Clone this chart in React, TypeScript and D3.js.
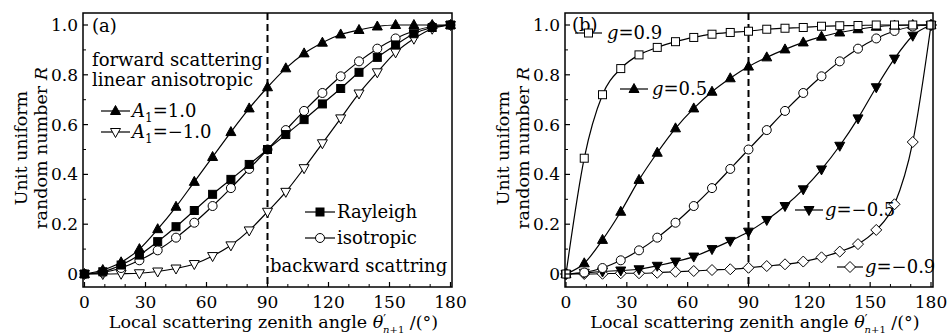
import React from 'react';
import * as d3 from 'd3';

// ---------- data ----------
const ANGLES = [0, 9, 18, 27, 36, 45, 54, 63, 72, 81, 90, 99, 108, 117, 126, 135, 144, 153, 162, 171, 180];
const X_TICKS = [0, 30, 60, 90, 120, 150, 180];
const X_TICK_LABELS = ['0', '30', '60', '90', '120', '150', '180'];
const Y_TICKS = [0, 0.2, 0.4, 0.6, 0.8, 1.0];
const Y_TICK_LABELS = ['0', '0.2', '0.4', '0.6', '0.8', '1.0'];

// panel (a)
const A1_POS = [0, 0.016, 0.047, 0.1, 0.18, 0.27, 0.37, 0.47, 0.57, 0.665, 0.75, 0.826, 0.886, 0.929, 0.962, 0.98, 0.994, 1.0, 1.0, 1.0, 1.0];
const A1_NEG = [0, 0, 0.001, 0.003, 0.01, 0.022, 0.04, 0.072, 0.115, 0.175, 0.25, 0.33, 0.425, 0.525, 0.625, 0.725, 0.81, 0.89, 0.945, 0.985, 1.0];
const RAYLEIGH = [0, 0.009, 0.036, 0.076, 0.13, 0.19, 0.255, 0.32, 0.38, 0.44, 0.5, 0.56, 0.62, 0.683, 0.745, 0.81, 0.87, 0.92, 0.965, 0.99, 1.0];
const ISOTROPIC = [0, 0.006, 0.024, 0.055, 0.095, 0.146, 0.206, 0.273, 0.345, 0.422, 0.5, 0.578, 0.655, 0.727, 0.794, 0.854, 0.905, 0.946, 0.976, 0.994, 1.0];

// panel (b)
const G_P09 = [0, 0.465, 0.72, 0.825, 0.88, 0.91, 0.933, 0.95, 0.963, 0.97, 0.975, 0.983, 0.987, 0.99, 0.995, 0.997, 0.998, 1.0, 1.0, 1.0, 1.0];
const G_P05 = [0, 0.043, 0.137, 0.25, 0.378, 0.487, 0.585, 0.665, 0.732, 0.786, 0.833, 0.87, 0.902, 0.93, 0.953, 0.97, 0.983, 0.993, 0.998, 1.0, 1.0];
const G_00 = [0, 0.006, 0.024, 0.055, 0.095, 0.146, 0.206, 0.273, 0.345, 0.422, 0.5, 0.578, 0.655, 0.727, 0.794, 0.854, 0.905, 0.946, 0.976, 0.994, 1.0];
const G_M05 = [0, 0.005, 0.01, 0.014, 0.019, 0.033, 0.05, 0.07, 0.1, 0.133, 0.17, 0.217, 0.273, 0.34, 0.42, 0.515, 0.625, 0.75, 0.865, 0.957, 1.0];
const G_M09 = [0, 0, 0.001, 0.003, 0.003, 0.005, 0.009, 0.012, 0.016, 0.019, 0.025, 0.032, 0.039, 0.05, 0.067, 0.09, 0.12, 0.177, 0.28, 0.53, 1.0];

const FONT = '"DejaVu Serif", serif';

type MarkerKind = 'triUp' | 'triDown' | 'square' | 'circle' | 'diamond';

function Marker({ kind, filled, x, y }: { kind: MarkerKind; filled: boolean; x: number; y: number }) {
  const fill = filled ? '#000' : '#fff';
  const common = { fill, stroke: '#000', strokeWidth: 1 };
  if (kind === 'circle') return <circle cx={x} cy={y} r={4.5} {...common} />;
  if (kind === 'square') return <rect x={x - 4} y={y - 4} width={8} height={8} {...common} />;
  let d = '';
  if (kind === 'triUp') d = `M${x},${y - 5.5}L${x + 5},${y + 3.5}L${x - 5},${y + 3.5}Z`;
  if (kind === 'triDown') d = `M${x},${y + 5.5}L${x + 5},${y - 3.5}L${x - 5},${y - 3.5}Z`;
  if (kind === 'diamond') d = `M${x},${y - 5.5}L${x + 5.5},${y}L${x},${y + 5.5}L${x - 5.5},${y}Z`;
  return <path d={d} {...common} />;
}

type Series = { values: number[]; kind: MarkerKind; filled: boolean };

function Panel({
  left, right, x0, x180, series, children,
}: {
  left: number; right: number; x0: number; x180: number; series: Series[]; children?: React.ReactNode;
}) {
  const top = 13;
  const bottom = 287;
  const x = d3.scaleLinear().domain([0, 180]).range([x0, x180]);
  const y = d3.scaleLinear().domain([0, 1]).range([274, 25]);
  const line = d3.line<number>()
    .x((_, i) => x(ANGLES[i]))
    .y((v) => y(v))
    .curve(d3.curveMonotoneX);
  const minorX = d3.range(10, 180, 10).filter((v) => v % 30 !== 0);
  const minorY = [0.1, 0.3, 0.5, 0.7, 0.9];
  const cx = (left + right) / 2;
  return (
    <g>
      {/* dashed 90° line */}
      <line x1={x(90)} x2={x(90)} y1={top} y2={bottom} stroke="#000" strokeWidth={2} strokeDasharray="7,4" />
      {series.map((s, k) => (
        <path key={'l' + k} d={line(s.values) || ''} fill="none" stroke="#000" strokeWidth={1.2} />
      ))}
      {series.map((s, k) => (
        <g key={'m' + k}>
          {s.values.map((v, i) => (
            <Marker key={i} kind={s.kind} filled={s.filled} x={x(ANGLES[i])} y={y(v)} />
          ))}
        </g>
      ))}
      {/* frame */}
      <rect x={left} y={top} width={right - left} height={bottom - top} fill="none" stroke="#000" strokeWidth={1.5} />
      {/* ticks */}
      {X_TICKS.map((t) => (
        <line key={'xt' + t} x1={x(t)} x2={x(t)} y1={bottom} y2={bottom - 5} stroke="#000" strokeWidth={1.2} />
      ))}
      {minorX.map((t) => (
        <line key={'xm' + t} x1={x(t)} x2={x(t)} y1={bottom} y2={bottom - 3} stroke="#000" strokeWidth={1} />
      ))}
      {Y_TICKS.map((t) => (
        <line key={'yt' + t} x1={left} x2={left + 5} y1={y(t)} y2={y(t)} stroke="#000" strokeWidth={1.2} />
      ))}
      {minorY.map((t) => (
        <line key={'ym' + t} x1={left} x2={left + 3} y1={y(t)} y2={y(t)} stroke="#000" strokeWidth={1} />
      ))}
      {/* tick labels */}
      {X_TICKS.map((t, i) => (
        <text key={'xl' + t} x={x(t)} y={308} textAnchor="middle" fontSize={17} fontFamily={FONT}>{X_TICK_LABELS[i]}</text>
      ))}
      {Y_TICKS.map((t, i) => (
        <text key={'yl' + t} x={left - 5} y={y(t) + 6} textAnchor="end" fontSize={17} fontFamily={FONT}>{Y_TICK_LABELS[i]}</text>
      ))}
      {/* x title */}
      <text x={cx + 6} y={328} textAnchor="middle" fontSize={17.5} fontFamily={FONT}>
        Local scattering zenith angle <tspan fontStyle="italic">θ</tspan>
        <tspan fontSize={12} dy={-4}>′</tspan>
        <tspan fontSize={10} dx={-3} dy={9} fontStyle="italic">n</tspan>
        <tspan fontSize={10}>+1</tspan>
        <tspan dy={-5}> /(°)</tspan>
      </text>
      {/* y title */}
      <g transform={`translate(${left - 56},148) rotate(-90)`}>
        <text x={0} y={0} textAnchor="middle" fontSize={17.5} fontFamily={FONT}>Unit uniform</text>
        <text x={0} y={20} textAnchor="middle" fontSize={17.5} fontFamily={FONT}>
          random number <tspan fontStyle="italic">R</tspan>
        </text>
      </g>
      {children}
    </g>
  );
}

function LegendItem({ x1, x2, y, kind, filled, children, tx }: {
  x1: number; x2: number; y: number; kind: MarkerKind; filled: boolean; children: React.ReactNode; tx: number;
}) {
  return (
    <g>
      <line x1={x1} x2={x2} y1={y} y2={y} stroke="#000" strokeWidth={1.2} />
      <Marker kind={kind} filled={filled} x={(x1 + x2) / 2} y={y} />
      <text x={tx} y={y + 6} fontSize={18} fontFamily={FONT}>{children}</text>
    </g>
  );
}

export default function App() {
  const seriesA: Series[] = [
    { values: A1_NEG, kind: 'triDown', filled: false },
    { values: ISOTROPIC, kind: 'circle', filled: false },
    { values: RAYLEIGH, kind: 'square', filled: true },
    { values: A1_POS, kind: 'triUp', filled: true },
  ];
  const seriesB: Series[] = [
    { values: G_M09, kind: 'diamond', filled: false },
    { values: G_M05, kind: 'triDown', filled: true },
    { values: G_00, kind: 'circle', filled: false },
    { values: G_P05, kind: 'triUp', filled: true },
    { values: G_P09, kind: 'square', filled: false },
  ];
  return (
    <svg width={952} height={335} style={{ display: 'block', position: 'absolute', left: 0, top: 0 }} viewBox="0 0 952 335">
      <rect x={0} y={0} width={952} height={335} fill="#fff" />
      <Panel left={83} right={452} x0={84.5} x180={450.5} series={seriesA}>
        <text x={92} y={32} fontSize={18} fontFamily={FONT}>(a)</text>
        <text x={92} y={66} fontSize={18} fontFamily={FONT}>forward scattering</text>
        <text x={92} y={86} fontSize={18} fontFamily={FONT}>linear anisotropic</text>
        <LegendItem x1={101} x2={130} y={111} kind="triUp" filled={true} tx={132}>
          <tspan fontStyle="italic">A</tspan><tspan fontSize={12} dy={5}>1</tspan><tspan dy={-5}>=1.0</tspan>
        </LegendItem>
        <LegendItem x1={101} x2={130} y={132} kind="triDown" filled={false} tx={132}>
          <tspan fontStyle="italic">A</tspan><tspan fontSize={12} dy={5}>1</tspan><tspan dy={-5}>=−1.0</tspan>
        </LegendItem>
        <LegendItem x1={305} x2={335} y={212} kind="square" filled={true} tx={337}>Rayleigh</LegendItem>
        <LegendItem x1={305} x2={335} y={238} kind="circle" filled={false} tx={337}>isotropic</LegendItem>
        <text x={270} y={272} fontSize={18} fontFamily={FONT}>backward scattring</text>
      </Panel>
      <Panel left={565} right={933} x0={566} x180={931} series={seriesB}>
        <text x={572} y={31} fontSize={18} fontFamily={FONT}>(b)</text>
        <LegendItem x1={575} x2={602} y={33} kind="square" filled={false} tx={607}>
          <tspan fontStyle="italic">g</tspan>=0.9
        </LegendItem>
        <LegendItem x1={620} x2={648} y={89} kind="triUp" filled={true} tx={652}>
          <tspan fontStyle="italic">g</tspan>=0.5
        </LegendItem>
        <LegendItem x1={795} x2={823} y={210} kind="triDown" filled={true} tx={825}>
          <tspan fontStyle="italic">g</tspan>=−0.5
        </LegendItem>
        <LegendItem x1={837} x2={863} y={267} kind="diamond" filled={false} tx={865}>
          <tspan fontStyle="italic">g</tspan>=−0.9
        </LegendItem>
      </Panel>
    </svg>
  );
}
